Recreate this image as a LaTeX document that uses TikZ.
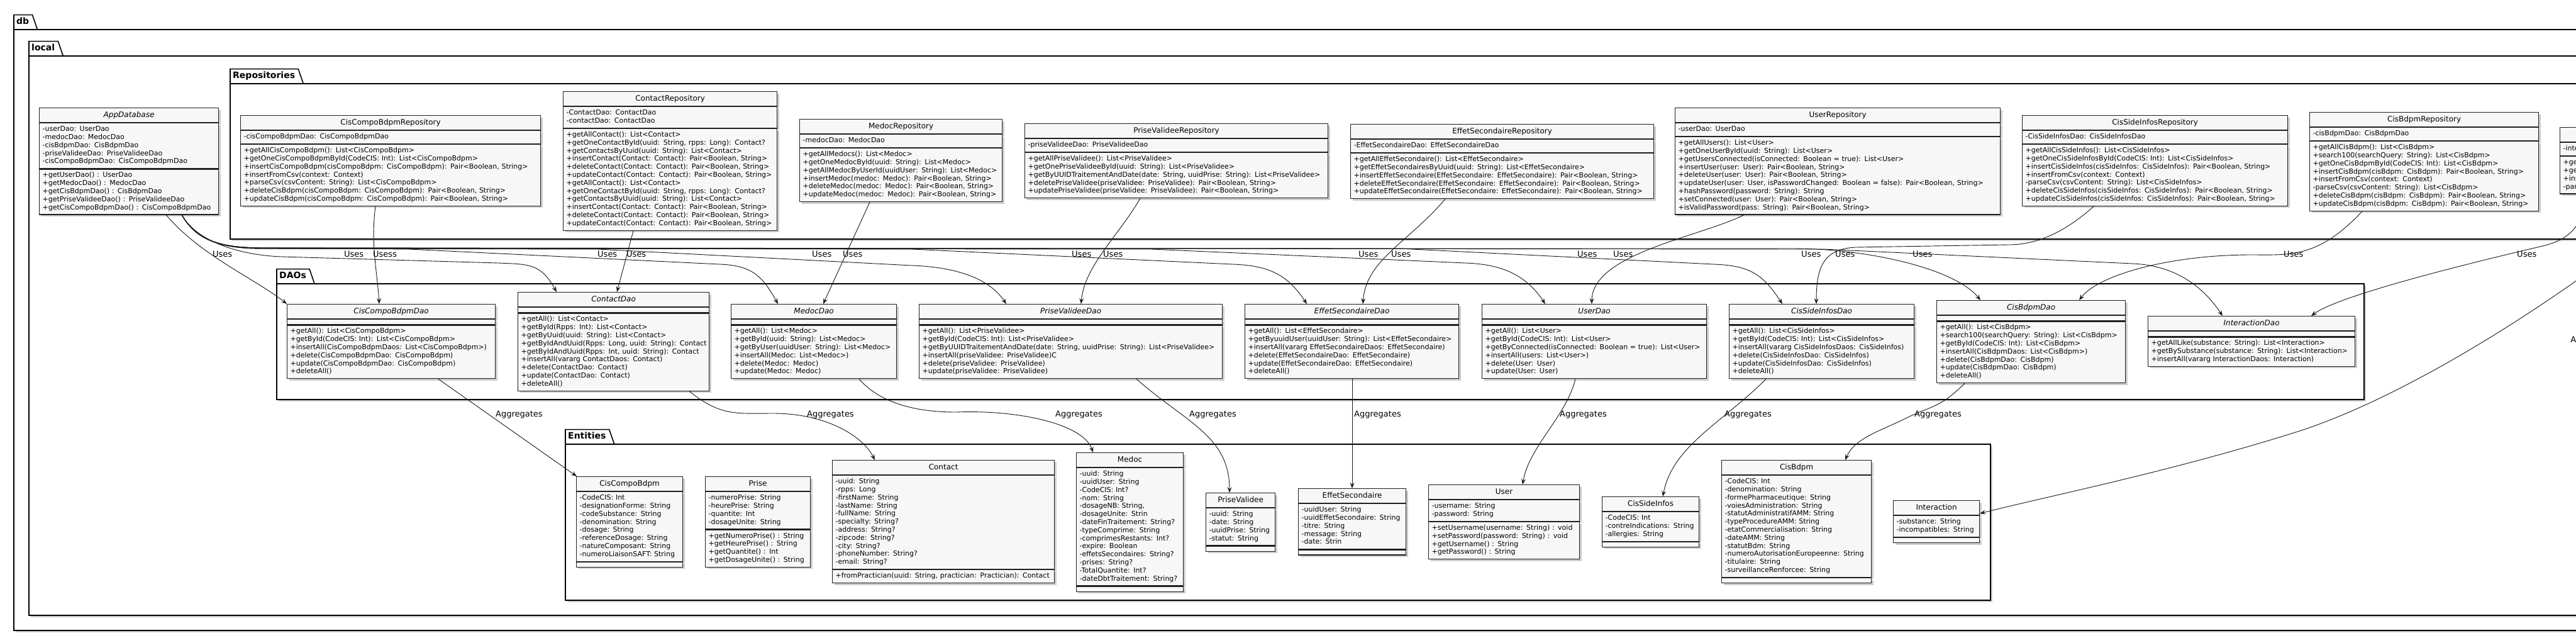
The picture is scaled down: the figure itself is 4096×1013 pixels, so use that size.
\documentclass[tikz,border=0pt]{standalone}
\usepackage{fontspec}
\setmainfont{DejaVu Sans}
\usetikzlibrary{arrows.meta,positioning,shadows}
\newcommand{\members}[1]{\begin{tabular}{@{}l@{}}#1\end{tabular}}

\begin{document}
\begin{tikzpicture}[x=1pt,y=-1pt,>={Stealth[length=9pt,width=7pt,inset=3.5pt]},
    clsbox/.style={draw=black!88,fill=black!3,line width=1.2pt,inner xsep=5pt,
      drop shadow={shadow xshift=3pt,shadow yshift=-3pt,opacity=0.2,fill=black}},
    clsname/.style={clsbox,anchor=north west,inner ysep=0pt,minimum height=23pt,
      text height=9pt,text depth=3pt,align=center,font=\fontsize{12}{14}\selectfont},
    clsitalic/.style={font=\fontsize{12}{14}\selectfont\itshape},
    clspart/.style={clsbox,inner ysep=4pt,font=\fontsize{11}{12.8}\selectfont},
    clsempty/.style={clsbox,inner sep=0pt,minimum height=8pt},
    pkgbody/.style={draw=black,fill=white,line width=1.6pt,
      drop shadow={shadow xshift=3pt,shadow yshift=-3pt,opacity=0.2,fill=black}},
    pkgtab/.style={draw=black,line width=1.6pt},
    pkglbl/.style={anchor=south west,inner xsep=4pt,inner ysep=0pt,minimum height=23pt,
      text height=10pt,text depth=3pt,font=\fontsize{14}{16}\selectfont\bfseries},
    rel/.style={->,draw=black!90,line width=0.9pt},
    lbl/.style={anchor=west,inner sep=0pt,font=\fontsize{13}{15}\selectfont}]
  \useasboundingbox (0,0) rectangle (4096,1013);
  \fill[white] (0,0) rectangle (4096,1013);

  % packages db and local
  \path[pkgbody] (22,47) rectangle (4200,1002);
  \node[pkglbl] (dbTab) at (22,47) {db};
  \draw[pkgtab] (dbTab.south west) |- ([xshift=1pt]dbTab.north east) -- ([xshift=9pt]dbTab.south east);
  \path[pkgbody] (46,89) rectangle (4200,978);
  \node[pkglbl] (localTab) at (46,89) {local};
  \draw[pkgtab] (localTab.south west) |- ([xshift=1pt]localTab.north east) -- ([xshift=9pt]localTab.south east);

  % AppDatabase
  \node[clsname,clsitalic,text width=275pt] (app) at (62,171) {AppDatabase};
  \node[clspart,text width=275pt,below=0pt of app] (appA) {\members{-userDao: UserDao\\-medocDao: MedocDao\\-cisBdpmDao: CisBdpmDao\\-priseValideeDao: PriseValideeDao\\-cisCompoBdpmDao: CisCompoBdpmDao}};
  \node[clspart,text width=275pt,below=0pt of appA] (appM) {\members{+getUserDao() : UserDao\\+getMedocDao() : MedocDao\\+getCisBdpmDao() : CisBdpmDao\\+getPriseValideeDao() : PriseValideeDao\\+getCisCompoBdpmDao() : CisCompoBdpmDao}};

  % Repositories
  \path[pkgbody] (366,133) rectangle (4200,380);
  \node[pkglbl] (repoTab) at (366,133) {Repositories};
  \draw[pkgtab] (repoTab.south west) |- ([xshift=1pt]repoTab.north east) -- ([xshift=9pt]repoTab.south east);

  \node[clsname,text width=467pt] (ccbRepo) at (382,183) {CisCompoBdpmRepository};
  \node[clspart,text width=467pt,below=0pt of ccbRepo] (ccbRepoA) {\members{-cisCompoBdpmDao: CisCompoBdpmDao}};
  \node[clspart,text width=467pt,below=0pt of ccbRepoA] (ccbRepoM) {\members{+getAllCisCompoBdpm(): List<CisCompoBdpm>\\+getOneCisCompoBdpmById(CodeCIS: Int): List<CisCompoBdpm>\\+insertCisCompoBdpm(cisCompoBdpm: CisCompoBdpm): Pair<Boolean, String>\\+insertFromCsv(context: Context)\\+parseCsv(csvContent: String): List<CisCompoBdpm>\\+deleteCisBdpm(cisCompoBdpm: CisCompoBdpm): Pair<Boolean, String>\\+updateCisBdpm(cisCompoBdpm: CisCompoBdpm): Pair<Boolean, String>}};

  \node[clsname,text width=330pt] (contactRepo) at (895,145) {ContactRepository};
  \node[clspart,text width=330pt,below=0pt of contactRepo] (contactRepoA) {\members{-ContactDao: ContactDao\\-contactDao: ContactDao}};
  \node[clspart,text width=330pt,below=0pt of contactRepoA] (contactRepoM) {\members{+getAllContact(): List<Contact>\\+getOneContactById(uuid: String, rpps: Long): Contact?\\+getContactsByUuid(uuid: String): List<Contact>\\+insertContact(Contact: Contact): Pair<Boolean, String>\\+deleteContact(Contact: Contact): Pair<Boolean, String>\\+updateContact(Contact: Contact): Pair<Boolean, String>\\+getAllContact(): List<Contact>\\+getOneContactById(uuid: String, rpps: Long): Contact?\\+getContactsByUuid(uuid: String): List<Contact>\\+insertContact(Contact: Contact): Pair<Boolean, String>\\+deleteContact(Contact: Contact): Pair<Boolean, String>\\+updateContact(Contact: Contact): Pair<Boolean, String>}};

  \node[clsname,text width=312pt] (medocRepo) at (1271,189) {MedocRepository};
  \node[clspart,text width=312pt,below=0pt of medocRepo] (medocRepoA) {\members{-medocDao: MedocDao}};
  \node[clspart,text width=312pt,below=0pt of medocRepoA] (medocRepoM) {\members{+getAllMedocs(): List<Medoc>\\+getOneMedocById(uuid: String): List<Medoc>\\+getAllMedocByUserId(uuidUser: String): List<Medoc>\\+insertMedoc(medoc: Medoc): Pair<Boolean, String>\\+deleteMedoc(medoc: Medoc): Pair<Boolean, String>\\+updateMedoc(medoc: Medoc): Pair<Boolean, String>}};

  \node[clsname,text width=472pt] (pvRepo) at (1629,196) {PriseValideeRepository};
  \node[clspart,text width=472pt,below=0pt of pvRepo] (pvRepoA) {\members{-priseValideeDao: PriseValideeDao}};
  \node[clspart,text width=472pt,below=0pt of pvRepoA] (pvRepoM) {\members{+getAllPriseValidee(): List<PriseValidee>\\+getOnePriseValideeById(uuid: String): List<PriseValidee>\\+getByUUIDTraitementAndDate(date: String, uuidPrise: String): List<PriseValidee>\\+deletePriseValidee(priseValidee: PriseValidee): Pair<Boolean, String>\\+updatePriseValidee(priseValidee: PriseValidee): Pair<Boolean, String>}};

  \node[clsname,text width=472pt] (esRepo) at (2147,197) {EffetSecondaireRepository};
  \node[clspart,text width=472pt,below=0pt of esRepo] (esRepoA) {\members{-EffetSecondaireDao: EffetSecondaireDao}};
  \node[clspart,text width=472pt,below=0pt of esRepoA] (esRepoM) {\members{+getAllEffetSecondaire(): List<EffetSecondaire>\\+getEffetSecondairesByUuid(uuid: String): List<EffetSecondaire>\\+insertEffetSecondaire(EffetSecondaire: EffetSecondaire): Pair<Boolean, String>\\+deleteEffetSecondaire(EffetSecondaire: EffetSecondaire): Pair<Boolean, String>\\+updateEffetSecondaire(EffetSecondaire: EffetSecondaire): Pair<Boolean, String>}};

  \node[clsname,text width=507pt] (userRepo) at (2663,171) {UserRepository};
  \node[clspart,text width=507pt,below=0pt of userRepo] (userRepoA) {\members{-userDao: UserDao}};
  \node[clspart,text width=507pt,below=0pt of userRepoA] (userRepoM) {\members{+getAllUsers(): List<User>\\+getOneUserById(uuid: String): List<User>\\+getUsersConnected(isConnected: Boolean = true): List<User>\\+insertUser(user: User): Pair<Boolean, String>\\+deleteUser(user: User): Pair<Boolean, String>\\+updateUser(user: User, isPasswordChanged: Boolean = false): Pair<Boolean, String>\\+hashPassword(password: String): String\\+setConnected(user: User): Pair<Boolean, String>\\+isValidPassword(pass: String): Pair<Boolean, String>}};

  \node[clsname,text width=412pt] (csiRepo) at (3215,183) {CisSideInfosRepository};
  \node[clspart,text width=412pt,below=0pt of csiRepo] (csiRepoA) {\members{-CisSideInfosDao: CisSideInfosDao}};
  \node[clspart,text width=412pt,below=0pt of csiRepoA] (csiRepoM) {\members{+getAllCisSideInfos(): List<CisSideInfos>\\+getOneCisSideInfosById(CodeCIS: Int): List<CisSideInfos>\\+insertCisSideInfos(cisSideInfos: CisSideInfos): Pair<Boolean, String>\\+insertFromCsv(context: Context)\\-parseCsv(csvContent: String): List<CisSideInfos>\\+deleteCisSideInfos(cisSideInfos: CisSideInfos): Pair<Boolean, String>\\+updateCisSideInfos(cisSideInfos: CisSideInfos): Pair<Boolean, String>}};

  \node[clsname,text width=354pt] (cbRepo) at (3672,178) {CisBdpmRepository};
  \node[clspart,text width=354pt,below=0pt of cbRepo] (cbRepoA) {\members{-cisBdpmDao: CisBdpmDao}};
  \node[clspart,text width=354pt,below=0pt of cbRepoA] (cbRepoM) {\members{+getAllCisBdpm(): List<CisBdpm>\\+search100(searchQuery: String): List<CisBdpm>\\+getOneCisBdpmById(CodeCIS: Int): List<CisBdpm>\\+insertCisBdpm(cisBdpm: CisBdpm): Pair<Boolean, String>\\+insertFromCsv(context: Context)\\-parseCsv(csvContent: String): List<CisBdpm>\\+deleteCisBdpm(cisBdpm: CisBdpm): Pair<Boolean, String>\\+updateCisBdpm(cisBdpm: CisBdpm): Pair<Boolean, String>}};

  \node[clsname,text width=390pt] (intRepo) at (4070,202) {InteractionRepository};
  \node[clspart,text width=390pt,below=0pt of intRepo] (intRepoA) {\members{-interactionDao: InteractionDao}};
  \node[clspart,text width=390pt,below=0pt of intRepoA] (intRepoM) {\members{+getAllLike(substance: String): List<Interaction>\\+getBySubstance(substance: String): List<Interaction>\\+insertFromCsv(context: Context)\\-parseCsv(csvContent: String): List<Interaction>}};

  % DAOs
  \path[pkgbody] (440,451) rectangle (3759,635);
  \node[pkglbl] (daoTab) at (440,451) {DAOs};
  \draw[pkgtab] (daoTab.south west) |- ([xshift=1pt]daoTab.north east) -- ([xshift=9pt]daoTab.south east);

  \node[clsname,clsitalic,text width=321pt] (ccbDao) at (456,483) {CisCompoBdpmDao};
  \node[clsempty,minimum width=331pt,below=0pt of ccbDao] (ccbDaoA) {};
  \node[clspart,text width=321pt,below=0pt of ccbDaoA] (ccbDaoM) {\members{+getAll(): List<CisCompoBdpm>\\+getById(CodeCIS: Int): List<CisCompoBdpm>\\+insertAll(CisCompoBdpmDaos: List<CisCompoBdpm>)\\+delete(CisCompoBdpmDao: CisCompoBdpm)\\+update(CisCompoBdpmDao: CisCompoBdpm)\\+deleteAll()}};

  \node[clsname,clsitalic,text width=294pt] (contactDao) at (823,464) {ContactDao};
  \node[clsempty,minimum width=304pt,below=0pt of contactDao] (contactDaoA) {};
  \node[clspart,text width=294pt,below=0pt of contactDaoA] (contactDaoM) {\members{+getAll(): List<Contact>\\+getById(Rpps: Int): List<Contact>\\+getByUuid(uuid: String): List<Contact>\\+getByIdAndUuid(Rpps: Long, uuid: String): Contact\\+getByIdAndUuid(Rpps: Int, uuid: String): Contact\\+insertAll(vararg ContactDaos: Contact)\\+delete(ContactDao: Contact)\\+update(ContactDao: Contact)\\+deleteAll()}};

  \node[clsname,clsitalic,text width=253pt] (medocDao) at (1162,483) {MedocDao};
  \node[clsempty,minimum width=263pt,below=0pt of medocDao] (medocDaoA) {};
  \node[clspart,text width=253pt,below=0pt of medocDaoA] (medocDaoM) {\members{+getAll(): List<Medoc>\\+getById(uuid: String): List<Medoc>\\+getByUser(uuidUser: String): List<Medoc>\\+insertAll(Medoc: List<Medoc>)\\+delete(Medoc: Medoc)\\+update(Medoc: Medoc)}};

  \node[clsname,clsitalic,text width=472pt] (pvDao) at (1461,483) {PriseValideeDao};
  \node[clsempty,minimum width=482pt,below=0pt of pvDao] (pvDaoA) {};
  \node[clspart,text width=472pt,below=0pt of pvDaoA] (pvDaoM) {\members{+getAll(): List<PriseValidee>\\+getById(CodeCIS: Int): List<PriseValidee>\\+getByUUIDTraitementAndDate(date: String, uuidPrise: String): List<PriseValidee>\\+insertAll(priseValidee: PriseValidee)C\\+delete(priseValidee: PriseValidee)\\+update(priseValidee: PriseValidee)}};

  \node[clsname,clsitalic,text width=330pt] (esDao) at (1979,483) {EffetSecondaireDao};
  \node[clsempty,minimum width=340pt,below=0pt of esDao] (esDaoA) {};
  \node[clspart,text width=330pt,below=0pt of esDaoA] (esDaoM) {\members{+getAll(): List<EffetSecondaire>\\+getByuuidUser(uuidUser: String): List<EffetSecondaire>\\+insertAll(vararg EffetSecondaireDaos: EffetSecondaire)\\+delete(EffetSecondaireDao: EffetSecondaire)\\+update(EffetSecondaireDao: EffetSecondaire)\\+deleteAll()}};

  \node[clsname,clsitalic,text width=347pt] (userDao) at (2356,483) {UserDao};
  \node[clsempty,minimum width=357pt,below=0pt of userDao] (userDaoA) {};
  \node[clspart,text width=347pt,below=0pt of userDaoA] (userDaoM) {\members{+getAll(): List<User>\\+getById(CodeCIS: Int): List<User>\\+getByConnected(isConnected: Boolean = true): List<User>\\+insertAll(users: List<User>)\\+delete(User: User)\\+update(User: User)}};

  \node[clsname,clsitalic,text width=284pt] (csiDao) at (2749,483) {CisSideInfosDao};
  \node[clsempty,minimum width=294pt,below=0pt of csiDao] (csiDaoA) {};
  \node[clspart,text width=284pt,below=0pt of csiDaoA] (csiDaoM) {\members{+getAll(): List<CisSideInfos>\\+getById(CodeCIS: Int): List<CisSideInfos>\\+insertAll(vararg CisSideInfosDaos: CisSideInfos)\\+delete(CisSideInfosDao: CisSideInfos)\\+update(CisSideInfosDao: CisSideInfos)\\+deleteAll()}};

  \node[clsname,clsitalic,text width=290pt] (cbDao) at (3079,477) {CisBdpmDao};
  \node[clsempty,minimum width=300pt,below=0pt of cbDao] (cbDaoA) {};
  \node[clspart,text width=290pt,below=0pt of cbDaoA] (cbDaoM) {\members{+getAll(): List<CisBdpm>\\+search100(searchQuery: String): List<CisBdpm>\\+getById(CodeCIS: Int): List<CisBdpm>\\+insertAll(CisBdpmDaos: List<CisBdpm>)\\+delete(CisBdpmDao: CisBdpm)\\+update(CisBdpmDao: CisBdpm)\\+deleteAll()}};

  \node[clsname,clsitalic,text width=319pt] (intDao) at (3415,502) {InteractionDao};
  \node[clsempty,minimum width=329pt,below=0pt of intDao] (intDaoA) {};
  \node[clspart,text width=319pt,below=0pt of intDaoA] (intDaoM) {\members{+getAllLike(substance: String): List<Interaction>\\+getBySubstance(substance: String): List<Interaction>\\+insertAll(vararg InteractionDaos: Interaction)}};

  % Entities
  \path[pkgbody] (899,706) rectangle (3165,954);
  \node[pkglbl] (entTab) at (899,706) {Entities};
  \draw[pkgtab] (entTab.south west) |- ([xshift=1pt]entTab.north east) -- ([xshift=9pt]entTab.south east);

  \node[clsname,text width=159pt] (ccb) at (916,757) {CisCompoBdpm};
  \node[clspart,text width=159pt,below=0pt of ccb] (ccbA) {\members{-CodeCIS: Int\\-designationForme: String\\-codeSubstance: String\\-denomination: String\\-dosage: String\\-referenceDosage: String\\-natureComposant: String\\-numeroLiaisonSAFT: String}};
  \node[clsempty,minimum width=169pt,below=0pt of ccbA] (ccbM) {};

  \node[clsname,text width=157pt] (prise) at (1121,757) {Prise};
  \node[clspart,text width=157pt,below=0pt of prise] (priseA) {\members{-numeroPrise: String\\-heurePrise: String\\-quantite: Int\\-dosageUnite: String}};
  \node[clspart,text width=157pt,below=0pt of priseA] (priseM) {\members{+getNumeroPrise() : String\\+getHeurePrise() : String\\+getQuantite() : Int\\+getDosageUnite() : String}};

  \node[clsname,text width=343pt] (contact) at (1323,731) {Contact};
  \node[clspart,text width=343pt,below=0pt of contact] (contactA) {\members{-uuid: String\\-rpps: Long\\-firstName: String\\-lastName: String\\-fullName: String\\-specialty: String?\\-address: String?\\-zipcode: String?\\-city: String?\\-phoneNumber: String?\\-email: String?}};
  \node[clspart,text width=343pt,below=0pt of contactA] (contactM) {\members{+fromPractician(uuid: String, practician: Practician): Contact}};

  \node[clsname,text width=160pt] (medoc) at (1711,719) {Medoc};
  \node[clspart,text width=160pt,below=0pt of medoc] (medocA) {\members{-uuid: String\\-uuidUser: String\\-CodeCIS: Int?\\-nom: String\\-dosageNB: String,\\-dosageUnite: Strin\\-dateFinTraitement: String?\\-typeComprime: String\\-comprimesRestants: Int?\\-expire: Boolean\\-effetsSecondaires: String?\\-prises: String?\\-TotalQuantite: Int?\\-dateDbtTraitement: String?}};
  \node[clsempty,minimum width=170pt,below=0pt of medocA] (medocM) {};

  \node[clsname,text width=100pt] (pv) at (1917,783) {PriseValidee};
  \node[clspart,text width=100pt,below=0pt of pv] (pvA) {\members{-uuid: String\\-date: String\\-uuidPrise: String\\-statut: String}};
  \node[clsempty,minimum width=110pt,below=0pt of pvA] (pvM) {};

  \node[clsname,text width=161pt] (es) at (2064,776) {EffetSecondaire};
  \node[clspart,text width=161pt,below=0pt of es] (esA) {\members{-uuidUser: String\\-uuidEffetSecondaire: String\\-titre: String\\-message: String\\-date: Strin}};
  \node[clsempty,minimum width=171pt,below=0pt of esA] (esM) {};

  \node[clsname,text width=230pt] (user) at (2271,770) {User};
  \node[clspart,text width=230pt,below=0pt of user] (userA) {\members{-username: String\\-password: String}};
  \node[clspart,text width=230pt,below=0pt of userA] (userM) {\members{+setUsername(username: String) : void\\+setPassword(password: String) : void\\+getUsername() : String\\+getPassword() : String}};

  \node[clsname,text width=144pt] (csi) at (2547,789) {CisSideInfos};
  \node[clspart,text width=144pt,below=0pt of csi] (csiA) {\members{-CodeCIS: Int\\-contreIndications: String\\-allergies: String}};
  \node[clsempty,minimum width=154pt,below=0pt of csiA] (csiM) {};

  \node[clsname,text width=228pt] (cb) at (2737,731) {CisBdpm};
  \node[clspart,text width=228pt,below=0pt of cb] (cbA) {\members{-CodeCIS: Int\\-denomination: String\\-formePharmaceutique: String\\-voiesAdministration: String\\-statutAdministratifAMM: String\\-typeProcedureAMM: String\\-etatCommercialisation: String\\-dateAMM: String\\-statutBdm: String\\-numeroAutorisationEuropeenne: String\\-titulaire: String\\-surveillanceRenforcee: String}};
  \node[clsempty,minimum width=238pt,below=0pt of cbA] (cbM) {};

  \node[clsname,text width=127pt] (inter) at (3010,795) {Interaction};
  \node[clspart,text width=127pt,below=0pt of inter] (interA) {\members{-substance: String\\-incompatibles: String}};
  \node[clsempty,minimum width=137pt,below=0pt of interA] (interM) {};

  % AppDatabase uses every DAO
  \draw[rel] ([xshift=-84pt]appM.south east) .. controls +(55,65) and +(-50,-40) .. (ccbDao.north west);
  \draw[rel] ([xshift=-59pt]appM.south east) .. controls +(25,45) and +(-60,-2) .. (448,408) -- (792,418) .. controls +(50,2) and +(-25,-45) .. ([xshift=62pt]contactDao.north west);
  \draw[rel] ([xshift=-59pt]appM.south east) .. controls +(25,45) and +(-60,0) .. (420,394) -- (650,396) -- (1145,420) .. controls +(50,2) and +(-25,-45) .. ([xshift=75pt]medocDao.north west);
  \draw[rel] ([xshift=-59pt]appM.south east) .. controls +(25,45) and +(-60,0) .. (420,395) -- (950,396) -- (1450,422) .. controls +(60,2) and +(-30,-45) .. ([xshift=139pt]pvDao.north west);
  \draw[rel] ([xshift=-59pt]appM.south east) .. controls +(25,45) and +(-60,0) .. (420,394) -- (1450,396) -- (1960,420) .. controls +(60,2) and +(-30,-45) .. ([xshift=99pt]esDao.north west);
  \draw[rel] ([xshift=-59pt]appM.south east) .. controls +(25,45) and +(-60,0) .. (420,395) -- (1830,396) -- (2330,418) .. controls +(60,2) and +(-30,-45) .. ([xshift=101pt]userDao.north west);
  \draw[rel] ([xshift=-59pt]appM.south east) .. controls +(25,45) and +(-60,0) .. (420,394) -- (2225,395) -- (2725,420) .. controls +(60,2) and +(-30,-45) .. ([xshift=85pt]csiDao.north west);
  \draw[rel] ([xshift=-59pt]appM.south east) .. controls +(25,45) and +(-60,0) .. (420,395) -- (2850,395) .. controls +(120,0) and +(-40,-50) .. ([xshift=70pt]cbDao.north west);
  \draw[rel] ([xshift=-59pt]appM.south east) .. controls +(25,45) and +(-60,0) .. (420,394) -- (2900,396) -- (3391,419) .. controls +(70,3) and +(-30,-45) .. ([xshift=119pt]intDao.north west);

  % repositories use their DAO
  \draw[rel] ([xshift=215pt]ccbRepoM.south west) .. controls +(-8,60) and +(-3,-50) .. ([xshift=147pt]ccbDao.north west);
  \draw[rel] ([xshift=112pt]contactRepoM.south west) -- ([xshift=158pt]contactDao.north west);
  \draw[rel] ([xshift=112pt]medocRepoM.south west) -- ([xshift=147pt]medocDao.north west);
  \draw[rel] ([xshift=184pt]pvRepoM.south west) .. controls +(-35,60) and +(5,-60) .. ([xshift=258pt]pvDao.north west);
  \draw[rel] ([xshift=151pt]esRepoM.south west) .. controls +(-60,70) and +(5,-70) .. ([xshift=188pt]esDao.north west);
  \draw[rel] ([xshift=110pt]userRepoM.south west) .. controls +(-70,35) and +(0,-80) .. ([xshift=175pt]userDao.north west);
  \draw[rel] ([xshift=114pt]csiRepoM.south west) .. controls +(-50,45) and +(40,0) .. (3194,389) -- (2950,393) .. controls +(-50,3) and +(0,-60) .. ([xshift=139pt]csiDao.north west);
  \draw[rel] ([xshift=84pt]cbRepoM.south west) .. controls +(-70,75) and +(60,0) .. (3580,405) .. controls +(-130,0) and +(30,-40) .. ([xshift=227pt]cbDao.north west);
  \draw[rel] ([xshift=45pt]intRepoM.south west) .. controls +(-10,55) and +(40,-10) .. (4043,391) .. controls +(-150,35) and +(40,-30) .. ([xshift=260pt]intDao.north west);

  % DAOs aggregate their entities
  \coordinate (offRight) at (4160,400);
  \draw[rel] ([xshift=241pt]ccbDaoM.south west) -- ([xshift=1pt]ccb.north west);
  \draw[rel] ([xshift=273pt]contactDaoM.south west) .. controls +(50,40) and +(-60,0) .. (1230,657) .. controls +(80,0) and +(-20,-40) .. ([xshift=68pt]contact.north west);
  \draw[rel] ([xshift=204pt]medocDaoM.south west) .. controls +(35,40) and +(-60,0) .. (1520,655) .. controls +(100,-4) and +(-15,-45) .. ([xshift=27pt]medoc.north west);
  \draw[rel] ([xshift=346pt]pvDaoM.south west) .. controls +(80,70) and +(0,-90) .. ([xshift=38pt]pv.north west);
  \draw[rel] ([xshift=171pt]esDaoM.south west) -- ([xshift=86pt]es.north west);
  \draw[rel] ([xshift=149pt]userDaoM.south west) .. controls +(-15,60) and +(10,-60) .. ([xshift=150pt]user.north west);
  \draw[rel] ([xshift=59pt]csiDaoM.south west) .. controls +(-70,70) and +(15,-80) .. ([xshift=97pt]csi.north west);
  \draw[rel] ([xshift=45pt]cbDaoM.south west) .. controls +(-40,40) and +(40,-20) .. (3030,665) .. controls +(-40,20) and +(15,-35) .. ([xshift=197pt]cb.north west);
  \draw[rel] (offRight) .. controls (4000,520) and (3800,640) .. (3650,687) .. controls (3450,750) and (3250,790) .. ([yshift=-9pt]inter.east);

  % connector labels
  \node[lbl] (u1) at (338,404) {Uses};
  \node[lbl] (u2) at (547,404) {Uses};
  \node[lbl] (u3) at (593,404) {Usess};
  \node[lbl] (u4) at (950,404) {Uses};
  \node[lbl] (u5) at (996,404) {Uses};
  \node[lbl] (u6) at (1291,404) {Uses};
  \node[lbl] (u7) at (1340,404) {Uses};
  \node[lbl] (u8) at (1704,404) {Uses};
  \node[lbl] (u9) at (1754,404) {Uses};
  \node[lbl] (u10) at (2160,404) {Uses};
  \node[lbl] (u11) at (2212,404) {Uses};
  \node[lbl] (u12) at (2508,404) {Uses};
  \node[lbl] (u13) at (2565,404) {Uses};
  \node[lbl] (u14) at (2864,404) {Uses};
  \node[lbl] (u15) at (2918,404) {Uses};
  \node[lbl] (u16) at (3041,404) {Uses};
  \node[lbl] (u17) at (3631,404) {Uses};
  \node[lbl] (u18) at (4002,404) {Uses};
  \node[lbl] (g1) at (788,659) {Aggregates};
  \node[lbl] (g2) at (1283,659) {Aggregates};
  \node[lbl] (g3) at (1678,659) {Aggregates};
  \node[lbl] (g4) at (1891,659) {Aggregates};
  \node[lbl] (g5) at (2153,659) {Aggregates};
  \node[lbl] (g6) at (2480,659) {Aggregates};
  \node[lbl] (g7) at (2742,659) {Aggregates};
  \node[lbl] (g8) at (3044,659) {Aggregates};
  \node[lbl] (g9) at (4087,541) {Aggregates};
\end{tikzpicture}
\end{document}
